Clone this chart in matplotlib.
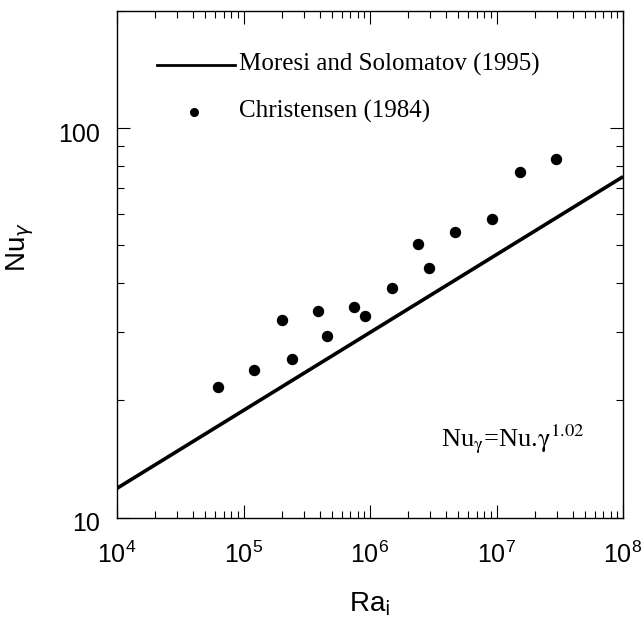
import matplotlib
matplotlib.use("Agg")
import matplotlib.pyplot as plt
import matplotlib.transforms as mtransforms

# Christensen (1984) points
ra_pts = [6.3e4, 1.22e5, 2.0e5, 2.4e5, 3.9e5, 4.6e5, 7.5e5, 9.2e5,
          1.5e6, 2.4e6, 2.9e6, 4.7e6, 9.2e6, 1.52e7, 2.96e7]
nu_pts = [21.7, 23.9, 32.1, 25.5, 33.9, 29.3, 34.8, 33.0,
          38.9, 50.5, 43.7, 54.2, 58.3, 77.1, 83.1]

# Moresi and Solomatov (1995) line, end points
ra_line = [1e4, 1e8]
nu_line = [11.9, 75.0]

sans = "Liberation Sans"
serif = "Liberation Serif"

fig = plt.figure(figsize=(6.44, 6.21), dpi=100)
ax = fig.add_axes([0.1817, 0.1663, 0.7857, 0.8165])

ax.plot(ra_line, nu_line, color="black", lw=2.6, solid_capstyle="butt")
ax.plot(ra_pts, nu_pts, "o", color="black", ms=7.2, mec="black")

ax.set_xscale("log")
ax.set_yscale("log")
ax.set_xlim(1e4, 1e8)
ax.set_ylim(10, 200)

ax.set_yticks([10, 100])
ax.set_yticklabels(["10", "100"])
ax.tick_params(which="both", direction="in", top=True, right=True, width=0.8)
ax.tick_params(which="major", length=9.5)
ax.tick_params(which="minor", length=5)
ax.tick_params(axis="x", pad=17)
ax.tick_params(axis="y", pad=12)
for lab in ax.get_xticklabels() + ax.get_yticklabels():
    lab.set_fontfamily(sans)
    lab.set_fontsize(18)
off = mtransforms.ScaledTranslation(0, -3 / 72, fig.dpi_scale_trans)
for lab in ax.get_yticklabels():
    lab.set_transform(lab.get_transform() + off)
for sp in ax.spines.values():
    sp.set_linewidth(1.0)

plt.rcParams["mathtext.rm"] = sans
ax.set_xlabel(r"Ra$_{\mathrm{i}}$", family=sans, fontsize=20,
              math_fontfamily="dejavusans", labelpad=16)
ax.set_ylabel(r"Nu$_{\gamma}$", family=sans, fontsize=20,
              math_fontfamily="dejavusans", labelpad=10)
ax.yaxis.set_label_coords(-0.16, 0.535)

# legend drawn by hand in axes coordinates
ax.plot([0.079, 0.233], [0.893, 0.893], color="black", lw=2.0,
        transform=ax.transAxes)
ax.plot([0.152], [0.801], "o", color="black", ms=5.5, transform=ax.transAxes)
ax.text(0.2417, 0.893, "Moresi and Solomatov (1995)", family=serif,
        fontsize=18, va="center", transform=ax.transAxes)
ax.text(0.2417, 0.801, "Christensen (1984)", family=serif,
        fontsize=18, va="center", transform=ax.transAxes)

ax.text(0.64, 0.155, r"Nu$_{\mathrm{γ}}$=Nu.$\mathrm{γ}^{1.02}$", family=serif,
        fontsize=19, va="center", transform=ax.transAxes,
        math_fontfamily="stix")

fig.savefig("out.png", dpi=100)
